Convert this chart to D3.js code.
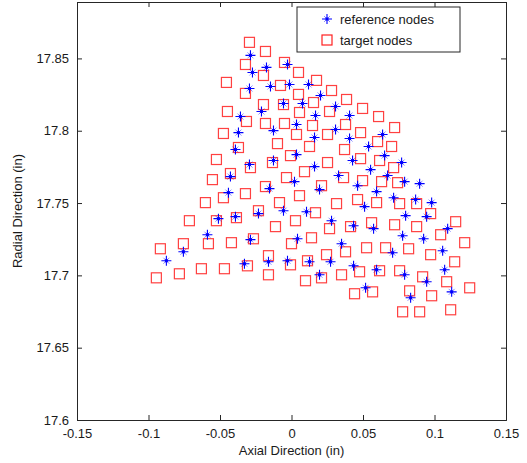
<!DOCTYPE html>
<html><head><meta charset="utf-8">
<script src="https://cdn.jsdelivr.net/npm/d3@7"></script>
<style>body{margin:0;background:#fff;} text{font-family:Arial,"Liberation Sans",sans-serif;}</style>
</head><body><svg id="c" width="527" height="463"></svg>
<script>
const xTicks = [-0.15,-0.1,-0.05,0,0.05,0.1,0.15];
const yTicks = [17.6,17.65,17.7,17.75,17.8,17.85];
const xLabel = "Axial Direction (in)";
const yLabel = "Radial Direction (in)";
const seriesNames = ["reference nodes","target nodes"];

// reference nodes (blue *)
const refX = [-0.0287,-0.0175,-0.0273,-0.0294,-0.0210,-0.0357,-0.0371,-0.0392,-0.0294,-0.0427,-0.0154,-0.0441,-0.0511,-0.0392,-0.0231,
 -0.0028,-0.0147,-0.0014,0.0119,-0.0056,0.0077,0.0203,0.0308,0.0168,0.0406,-0.0126,0.0035,0.0161,0.0308,0.0406,0.0539,0.0637,
 -0.0126,0.0035,0.0161,0.0329,0.0427,0.0553,0.0651,0.0770,0.0672,0.0791,0.0896,0.0021,0.0196,0.0462,0.0595,0.0714,0.0868,0.0980,
 -0.0056,0.0105,0.0511,0.0798,0.0945,0.0280,0.0434,0.0574,0.1092,-0.0588,-0.0756,-0.0875,-0.0287,-0.0329,-0.0161,0.0042,0.0777,
 0.0924,0.0350,0.0707,0.1057,-0.0028,0.0126,0.0273,0.0434,0.0595,0.1071,0.0196,0.0791,0.0945,0.0518,0.1120,0.0833];
const refY = [17.8521,17.8438,17.8403,17.8292,17.8133,17.8098,17.7987,17.7870,17.7766,17.7683,17.7600,17.7572,17.7392,17.7406,17.7427,
 17.8458,17.8306,17.8320,17.8320,17.8188,17.8188,17.8244,17.8168,17.8105,17.8105,17.8001,17.8043,17.7953,17.8008,17.7946,17.7891,17.7974,
 17.7794,17.7835,17.7752,17.7690,17.7794,17.7731,17.7828,17.7780,17.7690,17.7648,17.7634,17.7648,17.7593,17.7620,17.7579,17.7537,17.7524,17.7503,
 17.7447,17.7440,17.7475,17.7413,17.7406,17.7378,17.7343,17.7323,17.7323,17.7281,17.7163,17.7101,17.7247,17.7080,17.7094,17.7253,17.7274,
 17.7253,17.7219,17.7156,17.7170,17.7101,17.7094,17.7094,17.7066,17.7039,17.7039,17.7004,17.7004,17.6956,17.6914,17.6886,17.6845];

// target nodes (red squares)
const tgtX = [-0.0294,-0.0182,-0.0322,-0.0196,-0.0455,-0.0322,-0.0196,-0.0448,-0.0315,-0.0182,-0.0476,-0.0371,-0.0525,-0.0287,-0.0133,
 -0.0427,-0.0553,-0.0476,-0.0322,-0.0182,-0.0602,-0.0714,-0.0525,-0.0385,-0.0231,-0.0049,0.0049,-0.0077,0.0175,0.0049,0.0280,-0.0056,
 0.0154,0.0056,0.0266,0.0385,0.0497,0.0609,-0.0049,0.0147,0.0035,0.0252,0.0378,0.0721,-0.0098,0.0126,0.0602,0.0483,0.0700,0.0371,
 -0.0007,0.0483,0.0616,0.0252,0.0091,0.0714,0.0364,-0.0035,0.0630,0.0742,0.0210,0.0056,0.0497,-0.0084,0.0462,0.0595,0.0315,0.0756,
 0.0875,0.0973,0.0028,-0.0112,0.0560,0.0721,0.0875,0.1148,0.0266,0.0413,0.0168,-0.0917,-0.0756,-0.0581,-0.0420,-0.0266,-0.0945,
 -0.0784,-0.0630,-0.0469,-0.0308,-0.0161,-0.0161,0.0140,0.0000,0.1043,0.1211,0.0245,0.0378,0.0525,0.0658,0.0819,0.0973,0.1141,
 -0.0007,0.0112,0.0098,0.0210,0.0350,0.0476,0.0616,0.0756,0.0917,0.1085,0.1246,0.0441,0.0567,0.0826,0.0980,0.0777,0.0896,0.1113];
const tgtY = [17.8611,17.8548,17.8458,17.8382,17.8334,17.8258,17.8181,17.8133,17.8064,17.8050,17.7981,17.7884,17.7801,17.7745,17.7780,
 17.7704,17.7662,17.7537,17.7565,17.7614,17.7503,17.7378,17.7378,17.7399,17.7447,17.8472,17.8403,17.8313,17.8348,17.8251,17.8278,17.8181,
 17.8195,17.8126,17.8133,17.8216,17.8154,17.8098,17.8050,17.8036,17.7974,17.7974,17.8043,17.8022,17.7911,17.7891,17.7925,17.7987,17.7891,17.7870,
 17.7828,17.7807,17.7794,17.7780,17.7717,17.7745,17.7676,17.7676,17.7648,17.7641,17.7620,17.7551,17.7655,17.7503,17.7524,17.7503,17.7496,17.7496,
 17.7496,17.7427,17.7378,17.7337,17.7364,17.7350,17.7337,17.7371,17.7323,17.7337,17.7433,17.7184,17.7219,17.7219,17.7226,17.7253,17.6983,
 17.7011,17.7046,17.7046,17.7066,17.7136,17.7004,17.7260,17.7219,17.7281,17.7226,17.7143,17.7163,17.7191,17.7191,17.7184,17.7143,17.7094,
 17.7073,17.7101,17.6963,17.6983,17.7004,17.7025,17.7032,17.7032,17.6990,17.6956,17.6914,17.6873,17.6886,17.6893,17.6859,17.6748,17.6748,17.6762];

const svg = d3.select("#c");
const L=77, R=506, T=2, B=420;
const x = d3.scaleLinear().domain([-0.15,0.15]).range([L,R]);
const y = d3.scaleLinear().domain([17.6,17.889]).range([B,T]);
const axisColor = "#262626";

// axes
const fmt = d => String(+d.toFixed(2));
const gx = svg.append("g").attr("transform",`translate(0,${B})`)
  .call(d3.axisBottom(x).tickValues(xTicks).tickSize(-5).tickPadding(9).tickFormat(fmt));
const gy = svg.append("g").attr("transform",`translate(${L},0)`)
  .call(d3.axisLeft(y).tickValues(yTicks).tickSize(-5).tickPadding(8).tickFormat(fmt));
const gx2 = svg.append("g").attr("transform",`translate(0,${T})`)
  .call(d3.axisTop(x).tickValues(xTicks).tickSize(-5).tickFormat(""));
const gy2 = svg.append("g").attr("transform",`translate(${R},0)`)
  .call(d3.axisRight(y).tickValues(yTicks).tickSize(-5).tickFormat(""));
[gx,gy,gx2,gy2].forEach(g=>{
  g.select(".domain").attr("stroke",axisColor);
  g.selectAll(".tick line").attr("stroke",axisColor);
  g.selectAll(".tick text").attr("fill","#1a1a1a").style("font-size","13px").style("font-family","Arial, 'Liberation Sans', sans-serif");
});

// target squares
const s = 10;
svg.append("g").selectAll("rect").data(tgtX.map((v,i)=>[v,tgtY[i]])).join("rect")
  .attr("x",d=>x(d[0])-s/2).attr("y",d=>y(d[1])-s/2).attr("width",s).attr("height",s)
  .attr("fill","none").attr("stroke","#ff2020").attr("stroke-width",1.2).attr("stroke-opacity",0.85);

// reference stars
function star(g, cx, cy, r){
  const a = r*0.6;
  g.append("path").attr("d",`M${cx-a},${cy-a}L${cx+a},${cy+a}M${cx-a},${cy+a}L${cx+a},${cy-a}`)
   .attr("stroke","#0000ff").attr("stroke-opacity",0.45).attr("stroke-width",1).attr("fill","none");
  g.append("path").attr("d",`M${cx-r},${cy}H${cx+r}M${cx},${cy-r}V${cy+r}`)
   .attr("stroke","#0000ff").attr("stroke-width",1.1).attr("fill","none");
  g.append("rect").attr("x",cx-1.5).attr("y",cy-1.5).attr("width",3).attr("height",3).attr("fill","#0000ff");
}
const gs = svg.append("g");
refX.forEach((v,i)=>star(gs, x(v), y(refY[i]), 5));

// labels
svg.append("text").attr("x",(L+R)/2).attr("y",455).attr("text-anchor","middle")
  .style("font-size","13px").attr("fill","#1a1a1a").text(xLabel);
svg.append("text").attr("transform",`translate(22,${(T+B)/2}) rotate(-90)`).attr("text-anchor","middle")
  .style("font-size","13px").attr("fill","#1a1a1a").text(yLabel);

// legend
const lg = svg.append("g");
lg.append("rect").attr("x",297).attr("y",7).attr("width",163).attr("height",45)
  .attr("fill","#fff").attr("stroke",axisColor);
star(lg, 327, 19, 5);
lg.append("rect").attr("x",322).attr("y",35).attr("width",s).attr("height",s)
  .attr("fill","none").attr("stroke","#ff2020").attr("stroke-width",1.2);
lg.append("text").attr("x",340).attr("y",24).style("font-size","13px").attr("fill","#1a1a1a").text(seriesNames[0]);
lg.append("text").attr("x",340).attr("y",45).style("font-size","13px").attr("fill","#1a1a1a").text(seriesNames[1]);
</script></body></html>
